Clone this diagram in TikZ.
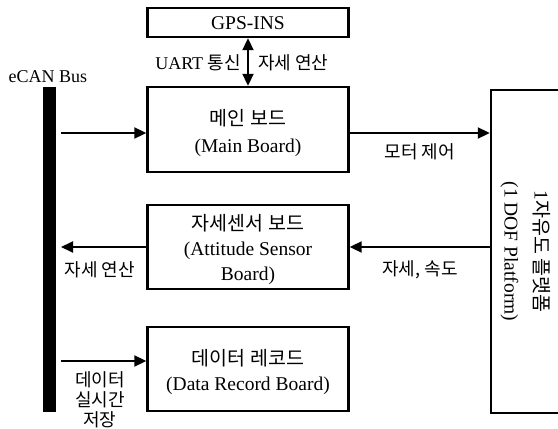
\documentclass[tikz,border=0pt]{standalone}
\usepackage{fontspec}
\setmainfont{Liberation Serif}
\newfontfamily\lat{Liberation Serif}
\newfontfamily\kr{Noto Sans CJK KR}
\usetikzlibrary{arrows.meta}
\begin{document}
\begin{tikzpicture}[x=1pt,y=-1pt,
  box/.style={draw, line width=2.4pt, minimum width=201pt, inner sep=0pt},
  boxtext/.style={inner sep=0pt, align=center, font=\lat\fontsize{19.5}{26}\selectfont},
  tip/.tip={Triangle[length=12pt,width=11pt]},
  conn/.style={line width=2pt, -tip},
  both/.style={line width=2pt, tip-tip},
  lbl/.style={inner sep=0pt, align=center, font=\lat\fontsize{18}{20}\selectfont},
  krlbl/.style={inner sep=0pt, align=center, font=\kr\fontsize{18}{20}\selectfont},
  busbar/.style={fill=black, minimum width=13pt, inner sep=0pt}]
\useasboundingbox (0,0) rectangle (558,429);

% boards
\node[box, minimum height=29pt] (gps) at (248,22.5) {};
\node[box, minimum height=85pt] (main) at (248,129.5) {};
\node[box, minimum height=84pt] (att) at (248,247) {};
\node[box, minimum height=84pt] (rec) at (248,369) {};
\node[boxtext] (gpstext) at ([yshift=-1pt]gps.center) {GPS-INS};
\node[boxtext, font=\lat\fontsize{19.5}{27}\selectfont] (maintext) at ([yshift=-4pt]main.center)
  {{\kr 메인 보드}\\(Main Board)};
\node[boxtext, font=\lat\fontsize{19.5}{25}\selectfont] (atttext) at ([yshift=-2.5pt]att.center)
  {{\kr 자세센서 보드}\\(Attitude Sensor\\Board)};
\node[boxtext, font=\lat\fontsize{19.5}{25}\selectfont] (rectext) at ([yshift=-3pt]rec.center)
  {{\kr 데이터 레코드}\\(Data Record Board)};

% platform
\node[draw, line width=2.4pt, minimum width=69pt, minimum height=323pt] (plat) at (525.5,251.5) {};
\node[rotate=-90, inner sep=0pt, align=center, font=\lat\fontsize{19.5}{30}\selectfont] (platlbl) at (plat.center)
  {1{\kr 자유도 플랫폼}\\(1 DOF Platform)};

% CAN bus
\node[busbar, minimum height=325pt] (bus) at (49.5,249.5) {};
\node[lbl] (ecan) at (48,77) {eCAN Bus};

% connectors
\coordinate (r1) at (61,133);
\coordinate (l2) at (61,247);
\coordinate (r3) at (61,361);
\draw[both] (gps.south) -- (main.north);
\draw[conn] (r1) -- (main.west |- r1);
\draw[conn] (main.east |- r1) -- (plat.west |- r1);
\draw[conn] (plat.west |- att.east) -- (att.east);
\draw[conn] (att.west) -- (l2);
\draw[conn] (r3) -- (rec.west |- r3);

% labels
\node[lbl, anchor=east] (uart) at (241,63) {UART {\kr 통신}};
\node[krlbl, anchor=west] (calc1) at (258,63) {자세 연산};
\node[krlbl] (motor) at (420,152) {모터 제어};
\node[krlbl] (speed) at (420,270) {자세, 속도};
\node[krlbl] (calc2) at (100,270) {자세 연산};
\node[krlbl] (store) at (100,400) {데이터\\실시간\\저장};
\end{tikzpicture}
\end{document}
